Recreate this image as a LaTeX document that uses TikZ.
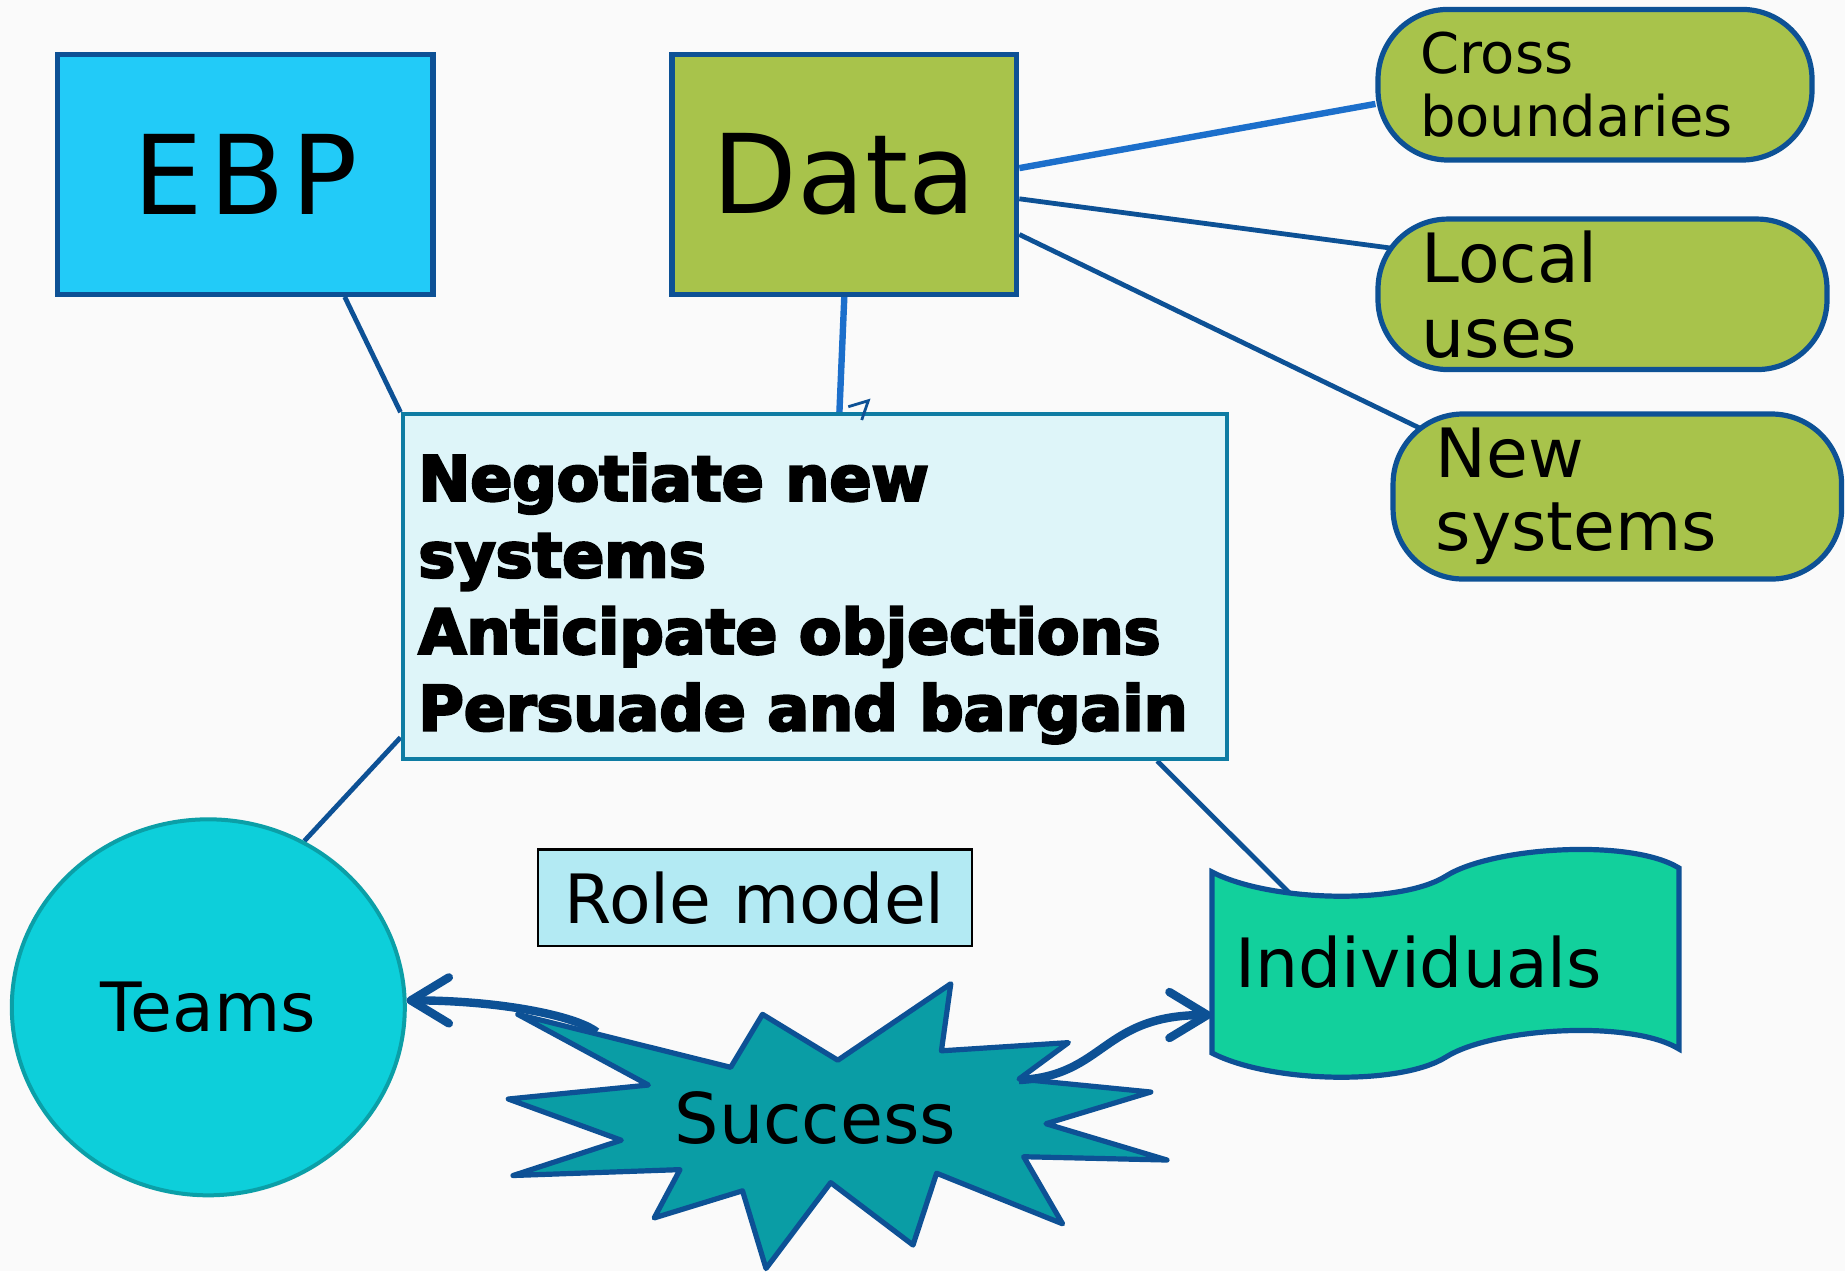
\documentclass[tikz,border=0pt]{standalone}
\usepackage{fontspec}
\setmainfont{DejaVu Sans}
\newfontfamily\heavyfont{DejaVu Sans Bold}[FakeBold=4]
\usetikzlibrary{positioning, calc, shapes.geometric, arrows.meta, backgrounds}

\definecolor{ebpblue}{HTML}{22CBF8}
\definecolor{datagreen}{HTML}{A8C34B}
\definecolor{darkline}{HTML}{0D5195}
\definecolor{brightline}{HTML}{1C6FCB}
\definecolor{taskfill}{HTML}{DEF5F9}
\definecolor{taskdraw}{HTML}{0E7CA3}
\definecolor{rolefill}{HTML}{B3EAF3}
\definecolor{teamsfill}{HTML}{0DCFDA}
\definecolor{teamsdraw}{HTML}{0B9FA7}
\definecolor{indivfill}{HTML}{12D09C}
\definecolor{starfill}{HTML}{0A9DA5}
\definecolor{paper}{HTML}{FAFAFA}

\tikzset{
  bigbox/.style={draw=darkline, line width=2.6pt, minimum height=120pt, font=\fontsize{55}{60}\selectfont},
  pill/.style={draw=darkline, line width=2.6pt, fill=datagreen, rounded corners=35pt, align=left, inner sep=0pt},
  link/.style={draw=darkline, line width=2.4pt},
  brightlink/.style={draw=brightline, line width=3.2pt},
  wavebox/.style={draw=darkline, line width=2.6pt, fill=indivfill},
  burst/.style={draw=darkline, line width=2.6pt, fill=starfill, line join=round},
  swoosh/.style={draw=darkline, line width=4.2pt, -{Straight Barb[length=19pt, width=23pt, round]}},
}

\begin{document}
\begin{tikzpicture}[x=0.5pt, y=-0.5pt]
\useasboundingbox (0,0) rectangle (1845,1271);

% top boxes
\node[bigbox, fill=ebpblue, minimum width=187.6pt] (ebp) at (245.4,174.2)
  {\addfontfeature{LetterSpace=6}EBP};
\node[bigbox, fill=datagreen, minimum width=172.4pt] (data) at (844.3,174.2) {Data};

% uses of data
\node[pill, minimum width=217pt, minimum height=75.3pt, text width=175pt,
  font=\fontsize{28}{31.8}\selectfont] (cross) at (1595,84.7) {Cross\\boundaries};
\node[pill, minimum width=224.5pt, minimum height=75.25pt, text width=181pt,
  font=\fontsize{34}{37.5}\selectfont] (local) at (1602.5,294.3) {Local\\uses};
\node[pill, minimum width=224.25pt, minimum height=82.5pt, text width=181.7pt,
  font=\fontsize{34}{36.5}\selectfont] (new) at (1617.3,496.5) {New\\systems};

% central task box
\node[draw=taskdraw, line width=2pt, fill=taskfill, minimum width=412.4pt,
  minimum height=172.4pt] (task) at (814.9,586.6) {};
\node[anchor=north west, inner sep=0pt, align=left,
  font=\heavyfont\fontsize{31}{38.3}\selectfont] (tasktext) at (418,453)
  {Negotiate new\\systems\\Anticipate objections\\Persuade and bargain};

\node[draw=black, line width=1.2pt, fill=rolefill, minimum width=217.1pt,
  minimum height=48.2pt, font=\fontsize{34}{40}\selectfont] (role) at (754.9,897.8) {Role model};

\node[ellipse, draw=teamsdraw, line width=2pt, fill=teamsfill, minimum width=196.5pt,
  minimum height=188pt, font=\fontsize{34}{40}\selectfont] (teams) at (208.3,1007.3) {Teams};

% individuals banner
\draw[wavebox] (1212,872) .. controls (1270,902) and (1400,905) .. (1446,876)
  .. controls (1492,847) and (1630,838) .. (1679,868)
  -- (1679,1049)
  .. controls (1630,1019) and (1492,1028) .. (1446,1057)
  .. controls (1400,1086) and (1270,1083) .. (1212,1053) -- cycle;
\node[text width=210pt, inner xsep=11.75pt, align=left,
  font=\fontsize{34}{40}\selectfont] (indiv) at (1445.5,962) {Individuals};

% success burst
\draw[burst] (517.7,1014.3) -- (730.7,1067.3) -- (762.5,1014.3) -- (837.8,1060.2)
  -- (950.8,983.7) -- (941.4,1050.8) -- (1068.4,1042.6) -- (1019,1079)
  -- (1150.8,1092) -- (1046,1123.7) -- (1167,1160) -- (1023.7,1156.7)
  -- (1062.6,1223.8) -- (936.6,1173.2) -- (913,1245) -- (830.7,1182.6)
  -- (766,1268.5) -- (742.5,1190.8) -- (654.2,1217.9) -- (680,1169.6)
  -- (513,1175.5) -- (621.3,1140.2) -- (508.3,1099) -- (648.4,1085) -- cycle;
\node[font=\fontsize{35}{40}\selectfont] (success) at (815.5,1117.9) {Success};
\coordinate (burstleft) at (596.7,1032);
\coordinate (burstright) at (1019,1080);

% arrows out of the burst
\draw[swoosh] (burstleft) .. controls +(-22,-17) and +(90,0) .. (teams.2);
\draw[swoosh] (burstright) .. controls +(86,-4) and +(-110,0) .. ($(indiv.west)+(0,53)$);

% stray mark
\draw[darkline, line width=1.4pt] (848.3,406.7) -- (868.3,400.7) -- (861.7,420);

\begin{scope}[on background layer]
\fill[paper] (0,0) rectangle (1845,1271);
\draw[link] (ebp.-51) -- (task.north west);
\draw[brightlink] (data.south) -- (task.82);
\draw[brightlink] (data.2) -- (cross.185);
\draw[link, shorten >=-15pt] (data.-8) -- (local.168.5);
\draw[link, shorten >=-20pt] (data.-19.5) -- (new.160.2);
\draw[link] (task.200.85) -- (teams.60);
\draw[link, shorten >=-8pt] (task.-27.2) -- ($(indiv.center)+(-157,-70)$);
\end{scope}
\end{tikzpicture}
\end{document}
